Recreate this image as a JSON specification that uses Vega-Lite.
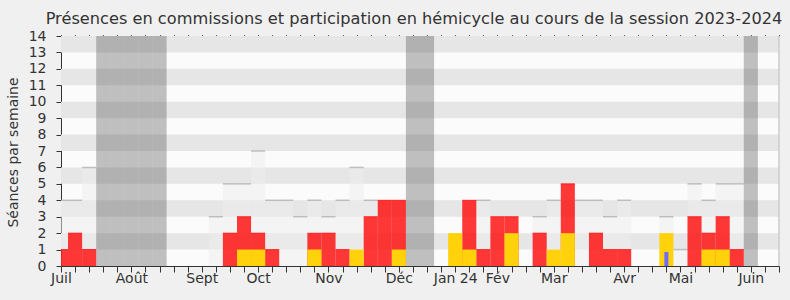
{
  "$schema": "https://vega.github.io/schema/vega-lite/v6.json",
  "width": 718,
  "height": 230,
  "autosize": {"type": "none"},
  "padding": {"left": 61, "top": 36, "right": 11, "bottom": 34},
  "background": "#f0f0f0",
  "config": {
    "view": {"fill": "#fbfbfb", "stroke": null},
    "font": "DejaVu Sans"
  },
  "title": {
    "text": "Présences en commissions et participation en hémicycle au cours de la session 2023-2024",
    "fontSize": 16.2,
    "fontWeight": "normal",
    "font": "DejaVu Sans",
    "color": "#333333",
    "anchor": "middle",
    "dx": -6,
    "offset": 2
  },
  "datasets": {
    "semaines": [
      {"semaine": 0, "mediane": 4, "commission": 1, "interventions": 0, "hemicycle": 0},
      {"semaine": 1, "mediane": 4, "commission": 2, "interventions": 0, "hemicycle": 0},
      {"semaine": 2, "mediane": 6, "commission": 1, "interventions": 0, "hemicycle": 0},
      {"semaine": 8, "mediane": 0, "commission": 0, "interventions": 0, "hemicycle": 0},
      {"semaine": 9, "mediane": 0, "commission": 0, "interventions": 0, "hemicycle": 0},
      {"semaine": 10, "mediane": 0, "commission": 0, "interventions": 0, "hemicycle": 0},
      {"semaine": 11, "mediane": 3, "commission": 0, "interventions": 0, "hemicycle": 0},
      {"semaine": 12, "mediane": 5, "commission": 2, "interventions": 0, "hemicycle": 0},
      {"semaine": 13, "mediane": 5, "commission": 3, "interventions": 1, "hemicycle": 0},
      {"semaine": 14, "mediane": 7, "commission": 2, "interventions": 1, "hemicycle": 0},
      {"semaine": 15, "mediane": 4, "commission": 1, "interventions": 0, "hemicycle": 0},
      {"semaine": 16, "mediane": 4, "commission": 0, "interventions": 0, "hemicycle": 0},
      {"semaine": 17, "mediane": 3, "commission": 0, "interventions": 0, "hemicycle": 0},
      {"semaine": 18, "mediane": 4, "commission": 2, "interventions": 1, "hemicycle": 0},
      {"semaine": 19, "mediane": 3, "commission": 2, "interventions": 0, "hemicycle": 0},
      {"semaine": 20, "mediane": 4, "commission": 1, "interventions": 0, "hemicycle": 0},
      {"semaine": 21, "mediane": 6, "commission": 0, "interventions": 1, "hemicycle": 0},
      {"semaine": 22, "mediane": 4, "commission": 3, "interventions": 0, "hemicycle": 0},
      {"semaine": 23, "mediane": 0, "commission": 4, "interventions": 0, "hemicycle": 0},
      {"semaine": 24, "mediane": 0, "commission": 4, "interventions": 1, "hemicycle": 0},
      {"semaine": 27, "mediane": 0, "commission": 0, "interventions": 0, "hemicycle": 0},
      {"semaine": 28, "mediane": 0, "commission": 0, "interventions": 2, "hemicycle": 0},
      {"semaine": 29, "mediane": 0, "commission": 4, "interventions": 1, "hemicycle": 0},
      {"semaine": 30, "mediane": 4, "commission": 1, "interventions": 0, "hemicycle": 0},
      {"semaine": 31, "mediane": 0, "commission": 3, "interventions": 0, "hemicycle": 0},
      {"semaine": 32, "mediane": 0, "commission": 3, "interventions": 2, "hemicycle": 0},
      {"semaine": 33, "mediane": 0, "commission": 0, "interventions": 0, "hemicycle": 0},
      {"semaine": 34, "mediane": 3, "commission": 2, "interventions": 0, "hemicycle": 0},
      {"semaine": 35, "mediane": 4, "commission": 0, "interventions": 1, "hemicycle": 0},
      {"semaine": 36, "mediane": 0, "commission": 5, "interventions": 2, "hemicycle": 0},
      {"semaine": 37, "mediane": 4, "commission": 0, "interventions": 0, "hemicycle": 0},
      {"semaine": 38, "mediane": 4, "commission": 2, "interventions": 0, "hemicycle": 0},
      {"semaine": 39, "mediane": 3, "commission": 1, "interventions": 0, "hemicycle": 0},
      {"semaine": 40, "mediane": 4, "commission": 1, "interventions": 0, "hemicycle": 0},
      {"semaine": 41, "mediane": 0, "commission": 0, "interventions": 0, "hemicycle": 0},
      {"semaine": 42, "mediane": 0, "commission": 0, "interventions": 0, "hemicycle": 0},
      {"semaine": 43, "mediane": 3, "commission": 0, "interventions": 2, "hemicycle": 0.85},
      {"semaine": 44, "mediane": 1, "commission": 0, "interventions": 0, "hemicycle": 0},
      {"semaine": 45, "mediane": 5, "commission": 3, "interventions": 0, "hemicycle": 0},
      {"semaine": 46, "mediane": 4, "commission": 2, "interventions": 1, "hemicycle": 0},
      {"semaine": 47, "mediane": 5, "commission": 3, "interventions": 1, "hemicycle": 0},
      {"semaine": 48, "mediane": 5, "commission": 1, "interventions": 0, "hemicycle": 0},
      {"semaine": 50, "mediane": 0, "commission": 0, "interventions": 0, "hemicycle": 0},
      {"semaine": 51, "mediane": 0, "commission": 0, "interventions": 0, "hemicycle": 0}
    ],
    "vacances": [
      {"semaine": 3}, {"semaine": 4}, {"semaine": 5}, {"semaine": 6}, {"semaine": 7},
      {"semaine": 25}, {"semaine": 26}, {"semaine": 49}
    ],
    "bandes": [
      {"bas": 1, "haut": 2}, {"bas": 3, "haut": 4}, {"bas": 5, "haut": 6},
      {"bas": 7, "haut": 8}, {"bas": 9, "haut": 10}, {"bas": 11, "haut": 12},
      {"bas": 13, "haut": 14}
    ],
    "bord": [{"semaine": 51}]
  },
  "resolve": {"axis": {"x": "independent", "y": "independent"}},
  "layer": [
    {
      "data": {"name": "bandes"},
      "mark": {"type": "rect", "color": "#e6e6e6"},
      "encoding": {
        "x": {"datum": 0, "type": "quantitative",
          "scale": {"domain": [0, 51], "nice": false, "zero": false, "padding": 0},
          "axis": {
            "orient": "bottom",
            "values": [0,1,2,3,4,5,6,7,8,9,10,11,12,13,14,15,16,17,18,19,20,21,22,23,24,25,26,27,28,29,30,31,32,33,34,35,36,37,38,39,40,41,42,43,44,45,46,47,48,49,50,51],
            "labelExpr": "({'0':'Juil','5':'Août','10':'Sept','14':'Oct','19':'Nov','24':'Déc','28':'Jan 24','31':'Fév','35':'Mar','40':'Avr','44':'Mai','49':'Juin'})[datum.value] || ''",
            "labelOverlap": false,
            "labelFlush": false,
            "labelBound": false,
            "labelFontSize": 14,
            "labelColor": "#333333",
            "labelPadding": -1,
            "tickSize": 6,
            "tickColor": "#333333",
            "domainColor": "#333333",
            "grid": false,
            "title": null
          }
        },
        "x2": {"datum": 51},
        "y": {"field": "bas", "type": "quantitative",
          "scale": {"domain": [0, 14], "nice": false, "zero": true, "padding": 0},
          "axis": {
            "orient": "left",
            "values": [0,1,2,3,4,5,6,7,8,9,10,11,12,13,14],
            "labelFontSize": 14,
            "labelColor": "#333333",
            "labelPadding": 10,
            "tickSize": 5,
            "tickColor": "#333333",
            "domainColor": "#333333",
            "grid": false,
            "title": "Séances par semaine",
            "titleFontSize": 14,
            "titleFontWeight": "normal",
            "titleColor": "#333333",
            "titlePadding": 8,
            "titleY": 116
          }
        },
        "y2": {"field": "haut"}
      }
    },
    {
      "data": {"name": "semaines"},
      "transform": [{"filter": "datum.mediane > 0"}],
      "mark": {"type": "bar", "color": "#eeeeee", "opacity": 0.5, "width": 14.08, "clip": true},
      "encoding": {
        "x": {"field": "semaine", "type": "quantitative",
          "axis": {
            "orient": "top",
            "values": [0,1,2,3,4,5,6,7,8,9,10,11,12,13,14,15,16,17,18,19,20,21,22,23,24,25,26,27,28,29,30,31,32,33,34,35,36,37,38,39,40,41,42,43,44,45,46,47,48,49,50,51],
            "labels": false,
            "domain": false,
            "grid": false,
            "tickSize": 1.5,
            "tickColor": "#555555",
            "title": null
          }
        },
        "y": {"field": "mediane", "type": "quantitative", "axis": null}
      }
    },
    {
      "data": {"name": "vacances"},
      "mark": {"type": "bar", "color": "#464646", "opacity": 0.33, "width": 14.08, "clip": true},
      "encoding": {
        "x": {"field": "semaine", "type": "quantitative", "axis": null},
        "y": {"datum": 14, "type": "quantitative", "axis": null},
        "y2": {"datum": 0}
      }
    },
    {
      "data": {"name": "semaines"},
      "transform": [{"filter": "datum.mediane > 0"}],
      "mark": {"type": "tick", "orient": "horizontal", "color": "#aaaaaa", "size": 14.08, "thickness": 1.5, "clip": true},
      "encoding": {
        "x": {"field": "semaine", "type": "quantitative", "axis": null},
        "y": {"field": "mediane", "type": "quantitative", "axis": null}
      }
    },
    {
      "data": {"name": "semaines"},
      "transform": [{"filter": "datum.commission > 0"}],
      "mark": {"type": "bar", "color": "#ff0000", "opacity": 0.78, "width": 14.08, "clip": true},
      "encoding": {
        "x": {"field": "semaine", "type": "quantitative", "axis": null},
        "y": {"field": "commission", "type": "quantitative", "axis": null}
      }
    },
    {
      "data": {"name": "semaines"},
      "transform": [{"filter": "datum.commission > 0"}],
      "mark": {"type": "tick", "orient": "horizontal", "color": "#ff0000", "size": 14.08, "thickness": 1, "clip": true},
      "encoding": {
        "x": {"field": "semaine", "type": "quantitative", "axis": null},
        "y": {"field": "commission", "type": "quantitative", "axis": null}
      }
    },
    {
      "data": {"name": "semaines"},
      "transform": [{"filter": "datum.interventions > 0"}],
      "mark": {"type": "bar", "color": "#ffd20c", "width": 14.08, "clip": true},
      "encoding": {
        "x": {"field": "semaine", "type": "quantitative", "axis": null},
        "y": {"field": "interventions", "type": "quantitative", "axis": null}
      }
    },
    {
      "data": {"name": "semaines"},
      "transform": [{"filter": "datum.hemicycle > 0"}],
      "mark": {"type": "bar", "color": "#6b6bff", "width": 4, "clip": true},
      "encoding": {
        "x": {"field": "semaine", "type": "quantitative", "axis": null},
        "y": {"field": "hemicycle", "type": "quantitative", "axis": null}
      }
    },
    {
      "data": {"name": "bord"},
      "mark": {"type": "rule", "color": "#cccccc", "strokeWidth": 1.5},
      "encoding": {
        "x": {"field": "semaine", "type": "quantitative", "axis": null}
      }
    }
  ]
}
